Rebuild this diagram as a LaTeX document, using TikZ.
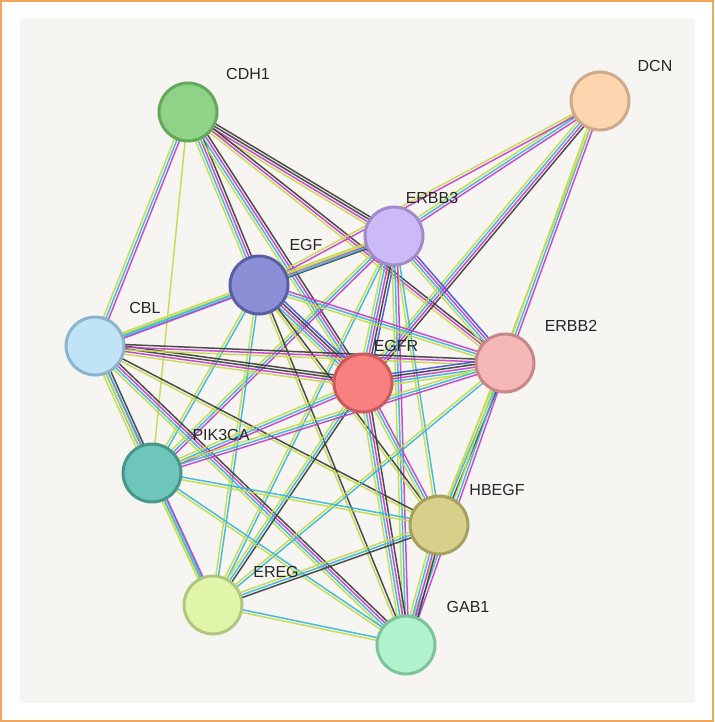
\documentclass[tikz,border=0pt]{standalone}
\usepackage{fontspec}
\setmainfont{Liberation Sans}
\usetikzlibrary{calc}
\definecolor{yg}{HTML}{C4DA4A}
\definecolor{cy}{HTML}{35B6D8}
\definecolor{mg}{HTML}{C43AC8}
\definecolor{bk}{HTML}{3A3A3A}
\definecolor{bl}{HTML}{4050E0}
\definecolor{frame}{HTML}{F2A65A}
\definecolor{panel}{HTML}{F6F5F2}
\tikzset{
  prot/.style={circle, minimum size=58pt, line width=3pt, inner sep=0pt},
  lab/.style={font=\fontsize{16}{16}\selectfont, text=black!85},
}
\newcommand\edge[3]{%
  \foreach \c [count=\n] in {#3} {\xdef\ecount{\n}}%
  \foreach \c [count=\i] in {#3} {
    \pgfmathsetmacro\off{(\i-(\ecount+1)/2)*2.7}
    \draw[\c, line width=1.5pt, opacity=.9]
      ($(#1)!\off pt!90:(#2)$) -- ($(#2)!\off pt!-90:(#1)$);
  }}
\begin{document}
\begin{tikzpicture}[x=1pt,y=-1pt]
\useasboundingbox (0,0) rectangle (714,722);
\fill[frame] (0,0) rectangle (714,722);
\fill[white] (2,2) rectangle (712,720);
\fill[panel] (20,18) rectangle (695,703);
\coordinate (CDH1) at (188,112);
\coordinate (DCN) at (600,101);
\coordinate (ERBB3) at (394,236);
\coordinate (EGF) at (259,285);
\coordinate (CBL) at (95,346);
\coordinate (EGFR) at (363,383);
\coordinate (ERBB2) at (505,363);
\coordinate (PIK3CA) at (152,473);
\coordinate (HBEGF) at (439,525);
\coordinate (EREG) at (213,605);
\coordinate (GAB1) at (406,645);
\edge{CDH1}{EGF}{yg,cy,mg,bk}
\edge{CDH1}{ERBB3}{yg,mg,bk,bk}
\edge{CDH1}{EGFR}{yg,cy,mg,bk}
\edge{CDH1}{ERBB2}{yg,mg,bk}
\edge{CDH1}{CBL}{yg,cy,mg}
\edge{CDH1}{PIK3CA}{yg}
\edge{DCN}{ERBB3}{yg,cy,mg}
\edge{DCN}{EGF}{yg,mg}
\edge{DCN}{EGFR}{yg,cy,mg,bk}
\edge{DCN}{ERBB2}{yg,cy,mg}
\edge{DCN}{HBEGF}{yg}
\edge{ERBB3}{EGF}{yg,mg,bk}
\edge{ERBB3}{CBL}{yg,cy}
\edge{ERBB3}{EGFR}{yg,cy,mg,bk,bl}
\edge{ERBB3}{ERBB2}{yg,cy,mg,bl}
\edge{ERBB3}{PIK3CA}{yg,cy,mg}
\edge{ERBB3}{HBEGF}{yg,cy}
\edge{ERBB3}{EREG}{yg,cy}
\edge{ERBB3}{GAB1}{yg,cy,mg}
\edge{EGF}{CBL}{yg,cy,mg}
\edge{EGF}{EGFR}{yg,cy,mg,bk,bl}
\edge{EGF}{ERBB2}{yg,cy,mg}
\edge{EGF}{PIK3CA}{yg,cy}
\edge{EGF}{HBEGF}{yg,bk}
\edge{EGF}{EREG}{yg,cy}
\edge{EGF}{GAB1}{yg,bk}
\edge{CBL}{EGFR}{yg,mg,bk,bk}
\edge{CBL}{ERBB2}{yg,mg,bk}
\edge{CBL}{PIK3CA}{yg,cy,mg,bk}
\edge{CBL}{HBEGF}{yg,bk}
\edge{CBL}{EREG}{yg,cy}
\edge{CBL}{GAB1}{yg,cy,mg,bk}
\edge{EGFR}{ERBB2}{yg,cy,mg,bk,bl}
\edge{EGFR}{PIK3CA}{yg,cy,mg}
\edge{EGFR}{HBEGF}{yg,cy,mg}
\edge{EGFR}{EREG}{yg,cy,bk}
\edge{EGFR}{GAB1}{yg,cy,mg,bk}
\edge{ERBB2}{PIK3CA}{yg,cy,mg}
\edge{ERBB2}{HBEGF}{yg,cy,bk}
\edge{ERBB2}{EREG}{yg,cy}
\edge{ERBB2}{GAB1}{yg,cy,mg}
\edge{PIK3CA}{HBEGF}{yg,cy}
\edge{PIK3CA}{EREG}{yg,cy,mg}
\edge{PIK3CA}{GAB1}{yg,cy}
\edge{HBEGF}{EREG}{yg,cy,bk}
\edge{HBEGF}{GAB1}{yg,cy,mg,bk}
\edge{EREG}{GAB1}{yg,cy}
\node[prot, fill={rgb,255:red,143;green,211;blue,135}, draw={rgb,255:red,98;green,170;blue,90}] (nCDH1) at (CDH1) {};
\node[prot, fill={rgb,255:red,253;green,214;blue,176}, draw={rgb,255:red,205;green,170;blue,140}] (nDCN) at (DCN) {};
\node[prot, fill={rgb,255:red,204;green,186;blue,246}, draw={rgb,255:red,160;green,140;blue,205}] (nERBB3) at (ERBB3) {};
\node[prot, fill={rgb,255:red,138;green,143;blue,214}, draw={rgb,255:red,90;green,95;blue,165}] (nEGF) at (EGF) {};
\node[prot, fill={rgb,255:red,192;green,227;blue,248}, draw={rgb,255:red,140;green,180;blue,205}] (nCBL) at (CBL) {};
\node[prot, fill={rgb,255:red,249;green,128;blue,128}, draw={rgb,255:red,205;green,90;blue,90}] (nEGFR) at (EGFR) {};
\node[prot, fill={rgb,255:red,246;green,183;blue,183}, draw={rgb,255:red,200;green,135;blue,135}] (nERBB2) at (ERBB2) {};
\node[prot, fill={rgb,255:red,110;green,198;blue,186}, draw={rgb,255:red,72;green,150;blue,138}] (nPIK3CA) at (PIK3CA) {};
\node[prot, fill={rgb,255:red,214;green,208;blue,138}, draw={rgb,255:red,165;green,160;blue,95}] (nHBEGF) at (HBEGF) {};
\node[prot, fill={rgb,255:red,224;green,245;blue,170}, draw={rgb,255:red,175;green,200;blue,125}] (nEREG) at (EREG) {};
\node[prot, fill={rgb,255:red,176;green,242;blue,205}, draw={rgb,255:red,125;green,195;blue,155}] (nGAB1) at (GAB1) {};
\node[lab] (lCDH1) at (248,74) {CDH1};
\node[lab] (lDCN) at (655,66) {DCN};
\node[lab] (lERBB3) at (432,198) {ERBB3};
\node[lab] (lEGF) at (306,245) {EGF};
\node[lab] (lCBL) at (145,308) {CBL};
\node[lab] (lEGFR) at (396,346) {EGFR};
\node[lab] (lERBB2) at (571,326) {ERBB2};
\node[lab] (lPIK3CA) at (221,435) {PIK3CA};
\node[lab] (lHBEGF) at (497,490) {HBEGF};
\node[lab] (lEREG) at (276,572) {EREG};
\node[lab] (lGAB1) at (468,607) {GAB1};
\end{tikzpicture}
\end{document}
